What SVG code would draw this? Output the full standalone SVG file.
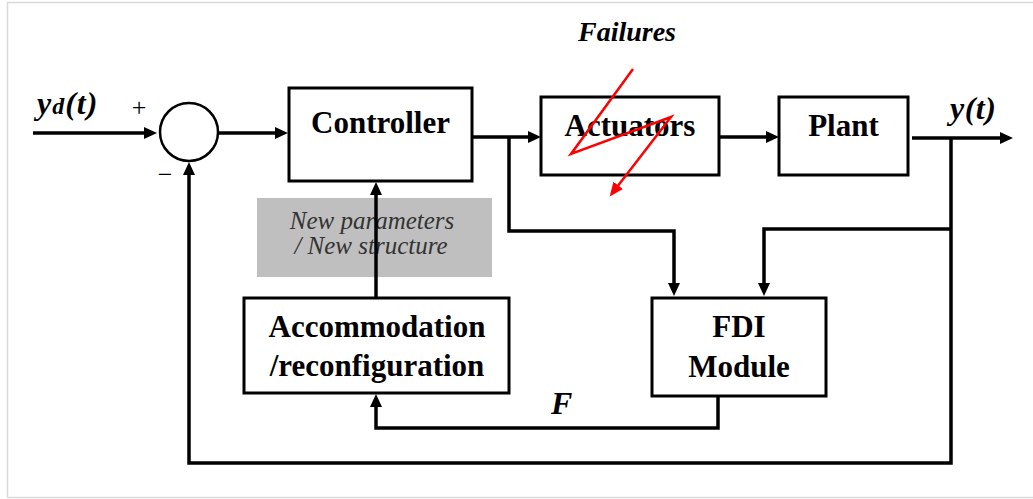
<svg xmlns="http://www.w3.org/2000/svg" width="1033" height="499" viewBox="0 0 1033 499">
  <defs>
    <marker id="arr" markerUnits="userSpaceOnUse" markerWidth="14" markerHeight="14" refX="2" refY="6" orient="auto">
      <path d="M0,0 L13,6 L0,12 z" fill="#000"/>
    </marker>
    <marker id="arrRed" markerUnits="userSpaceOnUse" markerWidth="16" markerHeight="14" refX="2" refY="6" orient="auto">
      <path d="M0,0 L14,6 L0,12 z" fill="#f00"/>
    </marker>
  </defs>

  <!-- page frame -->
  <rect x="0" y="0" width="1033" height="499" fill="#fff"/>
  <path d="M7.5,497.5 V2.5 H1033 M7.5,497.5 H1033" fill="none" stroke="#d9d9d9" stroke-width="1.5"/>

  <!-- connectors -->
  <g id="connectors" fill="none" stroke="#000" stroke-width="3.5" marker-end="url(#arr)">
    <path d="M33,133 H146"/>
    <path d="M218,133 H277"/>
    <path d="M472,137 H530"/>
    <path d="M509,137 V231 H674 V285"/>
    <path d="M719,137 H768"/>
    <path d="M912,138 H1002"/>
    <path d="M951,138 V463 H189 V173"/>
    <path d="M951,229 H764 V285"/>
    <path d="M718,396 V428 H376 V405"/>
    <path d="M376,298 V193"/>
  </g>

  <!-- summing junction -->
  <g id="sum">
    <circle cx="189" cy="132" r="29" fill="#fff" stroke="#000" stroke-width="2.5"/>
    <text font-family="'Liberation Serif', serif" font-size="26" text-anchor="middle" x="139" y="116">+</text>
    <text font-family="'Liberation Serif', serif" font-size="26" text-anchor="middle" x="165" y="183">−</text>
  </g>

  <!-- signals -->
  <g id="input">
    <text font-family="'Liberation Serif', serif" font-weight="bold" font-style="italic" font-size="32" letter-spacing="1" x="37" y="114">y<tspan font-size="24">d</tspan>(t)</text>
  </g>
  <g id="output">
    <text font-family="'Liberation Serif', serif" font-weight="bold" font-style="italic" font-size="32" letter-spacing="0.5" x="950" y="119">y(t)</text>
  </g>

  <!-- blocks -->
  <g id="controller">
    <rect x="289" y="88" width="183" height="93" fill="#fff" stroke="#000" stroke-width="3"/>
    <text font-family="'Liberation Serif', serif" font-weight="bold" font-size="31" text-anchor="middle" x="380.5" y="133">Controller</text>
  </g>

  <g id="actuators">
    <rect x="541" y="97" width="178" height="78" fill="#fff" stroke="#000" stroke-width="3"/>
    <text font-family="'Liberation Serif', serif" font-weight="bold" font-size="31" text-anchor="middle" x="630" y="136">Actuators</text>
  </g>

  <g id="plant">
    <rect x="779" y="97" width="129" height="78" fill="#fff" stroke="#000" stroke-width="3"/>
    <text font-family="'Liberation Serif', serif" font-weight="bold" font-size="31" text-anchor="middle" x="843.5" y="136">Plant</text>
  </g>

  <g id="fdi">
    <rect x="652" y="298" width="174" height="98" fill="#fff" stroke="#000" stroke-width="3"/>
    <text font-family="'Liberation Serif', serif" font-weight="bold" font-size="31" text-anchor="middle" x="739" y="337">FDI</text>
    <text font-family="'Liberation Serif', serif" font-weight="bold" font-size="31" text-anchor="middle" x="739" y="377">Module</text>
  </g>

  <g id="accommodation">
    <rect x="244" y="298" width="265" height="95" fill="#fff" stroke="#000" stroke-width="3"/>
    <text font-family="'Liberation Serif', serif" font-weight="bold" font-size="31" text-anchor="middle" x="377" y="337">Accommodation</text>
    <text font-family="'Liberation Serif', serif" font-weight="bold" font-size="31" text-anchor="middle" x="377" y="376">/reconfiguration</text>
  </g>

  <!-- controller update annotation -->
  <g id="update-note">
    <rect x="257" y="198" width="235" height="79" fill="#bfbfbf"/>
    <text font-family="'Liberation Serif', serif" font-style="italic" font-size="25" fill="#333" text-anchor="middle" x="372" y="229">New parameters</text>
    <text font-family="'Liberation Serif', serif" font-style="italic" font-size="25" fill="#333" text-anchor="middle" x="371" y="254">/ New structure</text>
    <path d="M376,198 V277" stroke="#000" stroke-width="3.5"/>
  </g>

  <!-- fault signal label -->
  <g id="fault-label">
    <text font-family="'Liberation Serif', serif" font-weight="bold" font-style="italic" font-size="32" x="551" y="414">F</text>
  </g>

  <!-- failure injection -->
  <g id="failures">
    <text font-family="'Liberation Serif', serif" font-weight="bold" font-style="italic" font-size="28" text-anchor="middle" x="627" y="41">Failures</text>
    <path d="M633,69 L571,154 L671,117 L617,187" fill="none" stroke="#f00" stroke-width="2.5" marker-end="url(#arrRed)"/>
  </g>
</svg>
